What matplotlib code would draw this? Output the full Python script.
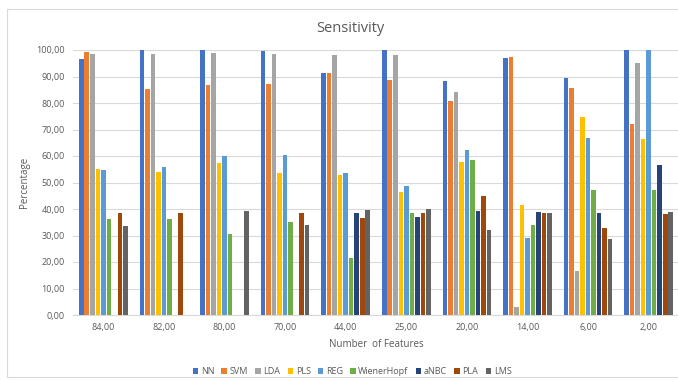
import numpy as np
import matplotlib
matplotlib.use("Agg")
import matplotlib.pyplot as plt
from matplotlib.patches import Rectangle

# Number of features per test and sensitivity (%) per classifier
features = ['84,00', '82,00', '80,00', '70,00', '44,00', '25,00', '20,00', '14,00', '6,00', '2,00']
methods = ['NN', 'SVM', 'LDA', 'PLS', 'REG', 'WienerHopf', 'aNBC', 'PLA', 'LMS']

nn = [96.5, 100.0, 100.0, 99.6, 91.2, 100.0, 88.4, 97.1, 89.3, 100.0]
svm = [99.2, 85.3, 86.8, 87.0, 91.2, 88.7, 80.8, 97.4, 85.5, 72.0]
lda = [98.5, 98.5, 99.0, 98.5, 98.2, 98.1, 84.2, 3.1, 16.6, 95.0]
pls = [55.0, 54.0, 57.5, 53.7, 52.8, 46.3, 57.7, 41.5, 74.8, 66.5]
reg = [54.7, 55.8, 60.1, 60.4, 53.7, 48.8, 62.3, 29.0, 66.7, 100.0]
wiener = [36.1, 36.1, 30.6, 35.2, 21.4, 38.6, 58.4, 34.0, 47.2, 47.2]
anbc = [0.0, 0.0, 0.0, 0.0, 38.6, 37.1, 39.2, 38.9, 38.4, 56.5]
pla = [38.6, 38.6, 0.0, 38.6, 36.7, 38.6, 44.9, 38.6, 32.7, 38.1]
lms = [33.7, 0.0, 39.2, 34.0, 39.5, 40.1, 32.1, 38.6, 28.7, 38.9]

series = [nn, svm, lda, pls, reg, wiener, anbc, pla, lms]
colors = ['#4472C4', '#ED7D31', '#A5A5A5', '#FFC000', '#5B9BD5',
          '#70AD47', '#264478', '#9E480E', '#636363']

txt = '#595959'
plt.rcParams['font.family'] = ['Open Sans', 'DejaVu Sans']

fig = plt.figure(figsize=(6.78, 3.81), dpi=100)
# chart frame
fig.patches.append(Rectangle((7 / 678, 4 / 381), 1.2, 1 - 13 / 381,
                             transform=fig.transFigure, fill=False,
                             edgecolor='#D9D9D9', linewidth=0.8))
ax = fig.add_axes([73 / 678, 66 / 381, 606 / 678, 265 / 381])

x = np.arange(len(features))
slot = 0.091
width = 0.075
for i, (vals, c, name) in enumerate(zip(series, colors, methods)):
    ax.bar(x + (i - 4) * slot, vals, width, color=c, label=name, zorder=3)

ax.set_xlim(-0.5, len(features) - 0.5)
ax.set_ylim(0, 100)
ax.set_yticks(np.arange(0, 101, 10))
ax.set_yticklabels(['%d,00' % v for v in range(0, 101, 10)])
ax.set_xticks(x)
ax.set_xticklabels(features)
ax.yaxis.grid(True, color='#D9D9D9', linewidth=0.8, zorder=0)
for s in ['top', 'right', 'left']:
    ax.spines[s].set_visible(False)
ax.spines['bottom'].set_color('#D9D9D9')
ax.tick_params(axis='both', length=0, labelsize=6.5, colors=txt)
ax.tick_params(axis='y', pad=6)
ax.tick_params(axis='x', pad=6)

ax.set_xlabel('Number  of Features', fontsize=7, color=txt, labelpad=5)
ax.set_ylabel('Percentage', fontsize=7, color=txt, labelpad=4)
fig.text(350 / 678, 1 - 28 / 381, 'Sensitivity', ha='center', va='center',
         fontsize=10.5, color=txt)

fig.legend(loc='center', bbox_to_anchor=(352 / 678, 1 - 372 / 381), ncol=9,
           frameon=False, fontsize=6.5, handlelength=0.6, handleheight=0.6,
           handletextpad=0.3, columnspacing=0.8, labelcolor=txt)

fig.savefig('out.png', dpi=100)
